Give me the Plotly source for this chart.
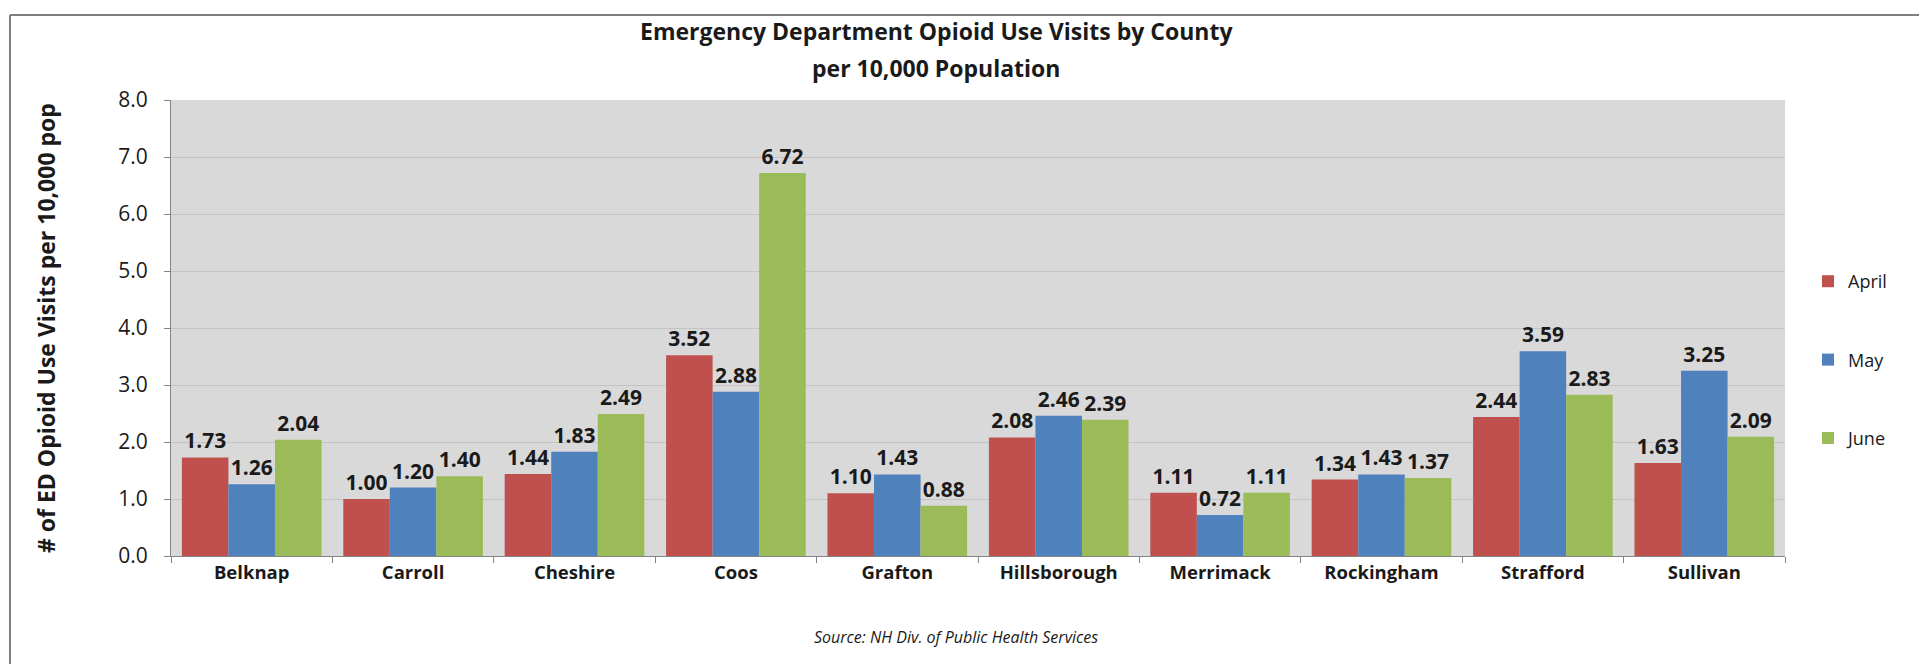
import plotly.graph_objects as go

counties = ["Belknap", "Carroll", "Cheshire", "Coos", "Grafton", "Hillsborough",
            "Merrimack", "Rockingham", "Strafford", "Sullivan"]
april = [1.73, 1.00, 1.44, 3.52, 1.10, 2.08, 1.11, 1.34, 2.44, 1.63]
may = [1.26, 1.20, 1.83, 2.88, 1.43, 2.46, 0.72, 1.43, 3.59, 3.25]
june = [2.04, 1.40, 2.49, 6.72, 0.88, 2.39, 1.11, 1.37, 2.83, 2.09]
series_names = ["April", "May", "June"]
series_colors = ["#C0504D", "#4F81BD", "#9BBB59"]
y_ticks = [0, 1, 2, 3, 4, 5, 6, 7, 8]

FONT = "'Open Sans', Lato, sans-serif"
TXT = "#1a1a1a"

W, H = 1927, 664
L, R, T, B = 163, 1927 - 1777, 92, 664 - 548

fig = go.Figure()
for name, vals, col in zip(series_names, [april, may, june], series_colors):
    fig.add_trace(go.Bar(
        x=counties, y=vals, name=name, legendgroup=name,
        marker=dict(color=col, line=dict(width=0)),
        text=[f"{v:.2f}" for v in vals], textposition="outside",
        textfont=dict(family=FONT, size=21, color=TXT, weight="bold"),
        cliponaxis=False,
    ))

pw = W - L - R
ph = H - T - B


def px_x(p):
    return (p - L) / pw


def px_y(p):
    return (H - B - p) / ph


fig.update_layout(
    width=W, height=H,
    margin=dict(l=L, r=R, t=T, b=B, autoexpand=False),
    paper_bgcolor="white", plot_bgcolor="#D9D9D9",
    barmode="group", bargap=0.135, bargroupgap=0,
    font=dict(family=FONT, size=14, color=TXT),
    showlegend=True,
    legend=dict(
        x=px_x(1800), xanchor="left", y=px_y(255), yanchor="top",
        font=dict(family=FONT, size=18, color=TXT),
        tracegroupgap=52, itemwidth=30, bgcolor="rgba(0,0,0,0)",
    ),
    xaxis=dict(
        showline=True, linecolor="#868686", linewidth=1,
        ticks="outside", tickson="boundaries", ticklen=6, tickcolor="#868686",
        tickfont=dict(family=FONT, size=18.5, color=TXT, weight="bold"),
        showgrid=False,
    ),
    yaxis=dict(
        range=[0, 8], tickvals=y_ticks, ticktext=[f"{v:.1f}" for v in y_ticks],
        showline=True, linecolor="#868686", linewidth=1,
        ticks="outside", ticklen=6, tickcolor="#868686",
        tickfont=dict(family=FONT, size=21, color=TXT),
        ticklabelstandoff=12,
        showgrid=True, gridcolor="#C3C3C3", gridwidth=1, zeroline=False,
    ),
    annotations=[
        dict(text="<b>Emergency Department Opioid Use Visits by County</b>",
             xref="paper", yref="paper", x=px_x(928), y=px_y(23),
             xanchor="center", yanchor="middle", showarrow=False,
             font=dict(family=FONT, size=23, color=TXT)),
        dict(text="<b>per 10,000 Population</b>",
             xref="paper", yref="paper", x=px_x(928), y=px_y(60),
             xanchor="center", yanchor="middle", showarrow=False,
             font=dict(family=FONT, size=23, color=TXT)),
        dict(text="<b># of ED Opioid Use Visits per 10,000 pop</b>",
             xref="paper", yref="paper", x=px_x(38), y=px_y(320), textangle=-90,
             xanchor="center", yanchor="middle", showarrow=False,
             font=dict(family=FONT, size=23, color=TXT)),
        dict(text="<i>Source: NH Div. of Public Health Services</i>",
             xref="paper", yref="paper", x=px_x(948), y=px_y(629),
             xanchor="center", yanchor="middle", showarrow=False,
             font=dict(family=FONT, size=16, color=TXT)),
    ],
    shapes=[
        dict(type="line", xref="paper", yref="paper", x0=px_x(2), x1=px_x(1922),
             y0=px_y(7), y1=px_y(7), line=dict(color="#7F7F7F", width=2)),
        dict(type="line", xref="paper", yref="paper", x0=px_x(2), x1=px_x(2),
             y0=px_y(7), y1=px_y(664), line=dict(color="#7F7F7F", width=2)),
        dict(type="line", xref="paper", yref="paper", x0=px_x(1922), x1=px_x(1922),
             y0=px_y(7), y1=px_y(664), line=dict(color="#7F7F7F", width=2)),
    ],
)

fig.write_html("out.html")
